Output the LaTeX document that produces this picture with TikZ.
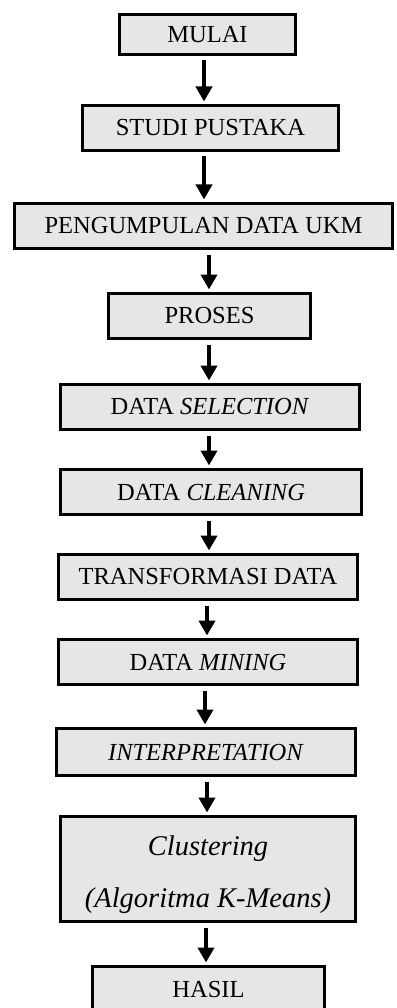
\documentclass[tikz,border=0pt]{standalone}
\usepackage{fontspec}
\setmainfont{Liberation Serif}
\usetikzlibrary{arrows.meta}
\definecolor{boxfill}{HTML}{E6E6E6}
\tikzset{
  stepbox/.style={draw=black, line width=3pt, fill=boxfill, outer sep=0pt, inner sep=0pt,
    font=\fontsize{24.5}{28}\selectfont},
  arr/.style={line width=4pt, -{Triangle[width=16pt,length=15pt]}, shorten <=6pt, shorten >=4pt}
}
\newcommand{\bx}[6]{% name, x1, x2, y1, y2, text
  \node[stepbox, minimum width={#3-#2-3}, minimum height={#5-#4-3}] (#1) at ({(#2+#3)/2},{(#4+#5)/2}) {#6};}
\begin{document}
\begin{tikzpicture}[x=1pt,y=-1pt]
\useasboundingbox (0,0) rectangle (396,1008);
\bx{mulai}{118}{297}{13}{56}{MULAI}
\bx{studi}{81}{340}{104}{152}{STUDI PUSTAKA}
\bx{kumpul}{13}{394}{202}{250}{PENGUMPULAN DATA UKM}
\bx{proses}{107}{312}{292}{340}{PROSES}
\bx{select}{59}{361}{383}{431}{DATA \textit{SELECTION}}
\bx{clean}{59}{363}{468}{516}{DATA \textit{CLEANING}}
\bx{trans}{57}{359}{553}{601}{TRANSFORMASI DATA}
\bx{mining}{57}{359}{638}{686}{DATA \textit{MINING}}
\bx{interp}{55}{357}{727}{777}{\textit{INTERPRETATION}}
\node[stepbox, minimum width=295, minimum height=105, align=center,
  font=\fontsize{28.5}{52}\selectfont\itshape] (clus) at (208,869) {\rule{0pt}{32pt}Clustering\\(Algoritma K-Means)};
\bx{hasil}{91}{326}{965}{1014}{HASIL}
\draw[arr] ([xshift=-3.5pt]mulai.south) -- ([xshift=-6.5pt]studi.north);
\draw[arr] ([xshift=-6.5pt]studi.south) -- ([xshift=0.5pt]kumpul.north);
\draw[arr] ([xshift=5.5pt]kumpul.south) -- ([xshift=-0.5pt]proses.north);
\draw[arr] ([xshift=-0.5pt]proses.south) -- ([xshift=-1pt]select.north);
\draw[arr] ([xshift=-1pt]select.south) -- ([xshift=-2pt]clean.north);
\draw[arr] ([xshift=-2pt]clean.south) -- ([xshift=1pt]trans.north);
\draw[arr] ([xshift=-1pt]trans.south) -- ([xshift=-1pt]mining.north);
\draw[arr] ([xshift=-3pt]mining.south) -- ([xshift=-1pt]interp.north);
\draw[arr] ([xshift=1pt]interp.south) -- ([xshift=-1pt]clus.north);
\draw[arr] ([xshift=-2pt]clus.south) -- ([xshift=-2.5pt]hasil.north);
\end{tikzpicture}
\end{document}
